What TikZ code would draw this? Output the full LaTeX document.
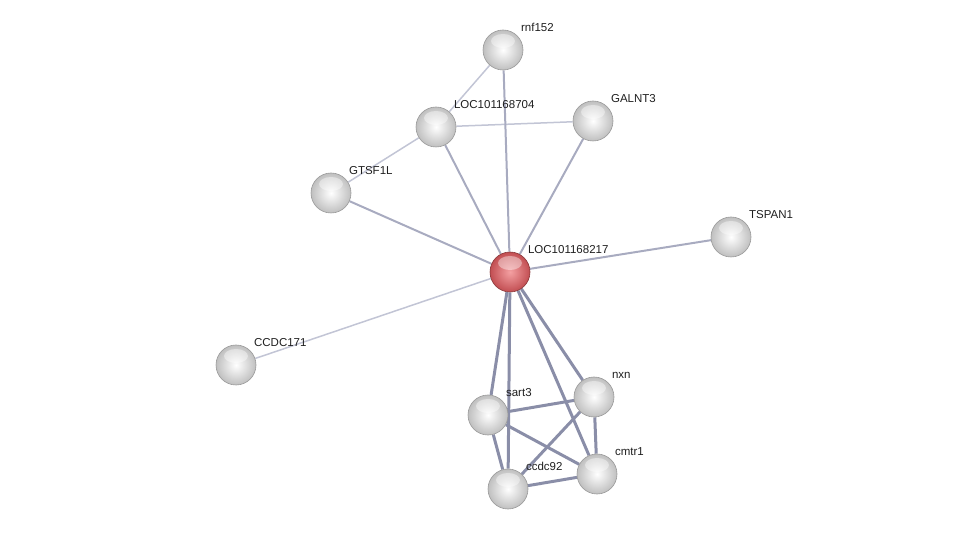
\documentclass[tikz,border=0pt]{standalone}
\usepackage{fontspec}
\setmainfont{Liberation Sans}
\usetikzlibrary{backgrounds}
\definecolor{edgelight}{HTML}{C2C5D5}
\definecolor{edgemid}{HTML}{A8ABC0}
\definecolor{edgedark}{HTML}{8A8EA8}
\definecolor{hubin}{HTML}{F4A0A2}
\definecolor{hubout}{HTML}{C24E52}
\tikzset{
  shine/.style={path picture={
    \fill[white, opacity=0.4] ([yshift=9pt]path picture bounding box.center) ellipse (12pt and 7pt);}},
  prot/.style={circle, minimum size=40pt, inner sep=0pt, draw=black!40, line width=0.6pt,
    inner color=white, outer color=black!25, shine,
    label={[lbl]above right:#1}},
  hub/.style={circle, minimum size=40pt, inner sep=0pt, draw=hubout!70!black, line width=0.6pt,
    inner color=hubin, outer color=hubout, shine,
    label={[lbl]above right:#1}},
  lbl/.style={font=\fontsize{11.5}{13}\selectfont, text=black!88, inner sep=0pt, label distance=5pt},
  elight/.style={draw=edgelight, line width=1.5pt},
  emid/.style={draw=edgemid, line width=2pt},
  edark/.style={draw=edgedark, line width=3pt}
}
\begin{document}
\begin{tikzpicture}[x=1pt, y=-1pt]
    \useasboundingbox (0,0) rectangle (975,534);
    \node[prot=rnf152] (rnf) at (503,50) {};
    \node[prot=LOC101168704] (loc704) at (436,127) {};
    \node[prot=GALNT3] (galnt) at (593,121) {};
    \node[prot=GTSF1L] (gtsf) at (331,193) {};
    \node[prot=TSPAN1] (tspan) at (731,237) {};
    \node[hub=LOC101168217] (loc217) at (510,272) {};
    \node[prot=CCDC171] (ccdc171) at (236,365) {};
    \node[prot=sart3] (sart) at (488,415) {};
    \node[prot=nxn] (nxn) at (594,397) {};
    \node[prot=cmtr1] (cmtr) at (597,474) {};
    \node[prot=ccdc92] (ccdc92) at (508,489) {};
    \begin{scope}[on background layer]
    \draw[elight] (rnf) -- (loc704);
    \draw[elight] (loc704) -- (galnt);
    \draw[elight] (loc704) -- (gtsf);
    \draw[elight] (ccdc171) -- (loc217);
    \draw[emid] (rnf) -- (loc217);
    \draw[emid] (loc704) -- (loc217);
    \draw[emid] (galnt) -- (loc217);
    \draw[emid] (gtsf) -- (loc217);
    \draw[emid] (tspan) -- (loc217);
    \draw[edark] (loc217) -- (sart);
    \draw[edark] (loc217) -- (ccdc92);
    \draw[edark] (loc217) -- (nxn);
    \draw[edark] (loc217) -- (cmtr);
    \draw[edark] (sart) -- (nxn);
    \draw[edark] (sart) -- (cmtr);
    \draw[edark] (sart) -- (ccdc92);
    \draw[edark] (ccdc92) -- (nxn);
    \draw[edark] (ccdc92) -- (cmtr);
    \draw[edark] (nxn) -- (cmtr);
    \end{scope}
  \end{tikzpicture}
\end{document}
